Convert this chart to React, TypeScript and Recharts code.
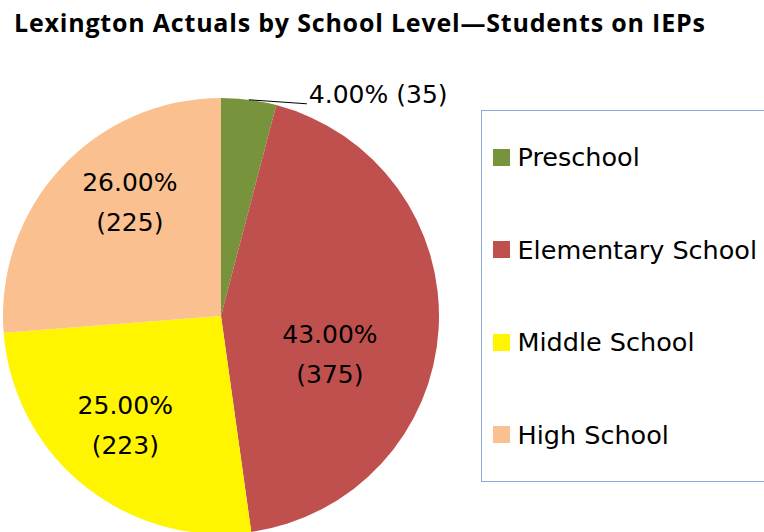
import React from 'react';
import { PieChart, Pie, Cell, Legend } from 'recharts';

const levels = ['Preschool', 'Elementary School', 'Middle School', 'High School'];
const students = [35, 375, 223, 225];
const percentLabels = ['4.00%', '43.00%', '25.00%', '26.00%'];
const sliceColors = ['#77933C', '#C0504D', '#FFF500', '#FAC090'];

const data = levels.map((name, i) => ({ name, value: students[i] }));

const RADIAN = Math.PI / 180;
const labelFont = '"DejaVu Sans", Verdana, sans-serif';
// hand-tuned nudges so the inner labels sit where the original placed them
const labelNudge = [
  { dx: 0, dy: 0 },
  { dx: -26, dy: 30 },
  { dx: -11, dy: 4 },
  { dx: 8, dy: -22 },
];

const renderLabel = (props: any) => {
  const { cx, cy, midAngle, outerRadius, index } = props;
  const cos = Math.cos(-midAngle * RADIAN);
  const sin = Math.sin(-midAngle * RADIAN);
  if (index === 0) {
    // small slice: label outside with a leader line
    const sx = cx + outerRadius * cos;
    const sy = cy + outerRadius * sin;
    const ex = sx + 58;
    const ey = sy + 4;
    return (
      <g>
        <line x1={sx} y1={sy} x2={ex} y2={ey} stroke="#000" strokeWidth={1} />
        <text x={ex + 2} y={sy - 4} fontSize={25} fontFamily={labelFont} fill="#000" dominantBaseline="middle">
          {`${percentLabels[index]} (${students[index]})`}
        </text>
      </g>
    );
  }
  const r = outerRadius * 0.62;
  const x = cx + r * cos + labelNudge[index].dx;
  const y = cy + r * sin + labelNudge[index].dy;
  return (
    <text x={x} y={y} fontSize={25} fontFamily={labelFont} fill="#000" textAnchor="middle">
      <tspan x={x} dy={-11}>{percentLabels[index]}</tspan>
      <tspan x={x} dy={40}>{`(${students[index]})`}</tspan>
    </text>
  );
};

const LegendBox = () => (
  <div
    style={{
      boxSizing: 'border-box',
      width: 300,
      height: 372,
      border: '1.5px solid #8EAADB',
      fontFamily: '"DejaVu Sans", Verdana, sans-serif',
      fontSize: 25.5,
      color: '#000',
    }}
  >
    {levels.map((name, i) => (
      <div key={name} style={{ display: 'flex', alignItems: 'center', height: 92.5 }}>
        <span style={{ display: 'inline-block', width: 17, height: 17, background: sliceColors[i], marginLeft: 10.5, marginRight: 8 }} />
        <span style={{ whiteSpace: 'nowrap' }}>{name}</span>
      </div>
    ))}
  </div>
);

export default function App() {
  return (
    <div style={{ position: 'absolute', left: 0, top: 0, width: 764, height: 532, background: '#fff', overflow: 'hidden' }}>
      <div
        style={{
          position: 'absolute',
          left: 14,
          top: 6,
          fontFamily: '"Open Sans", sans-serif',
          fontWeight: 'bold',
          fontSize: 25,
          letterSpacing: 0.8,
          lineHeight: '32px',
          whiteSpace: 'nowrap',
        }}
      >
        Lexington Actuals by School Level—Students on IEPs
      </div>
      <PieChart width={764} height={532} margin={{ top: 0, right: 0, bottom: 0, left: 0 }}>
        <Pie
          data={data}
          dataKey="value"
          nameKey="name"
          cx={221}
          cy={316}
          outerRadius={218}
          startAngle={90}
          endAngle={-270}
          stroke="none"
          label={renderLabel}
          labelLine={false}
          isAnimationActive={false}
        >
          {data.map((d, i) => (
            <Cell key={d.name} fill={sliceColors[i]} />
          ))}
        </Pie>
        <Legend
          layout="vertical"
          content={() => <LegendBox />}
          wrapperStyle={{ position: 'absolute', left: 481, top: 110, width: 300, height: 372, bottom: 'auto' }}
        />
      </PieChart>
    </div>
  );
}
